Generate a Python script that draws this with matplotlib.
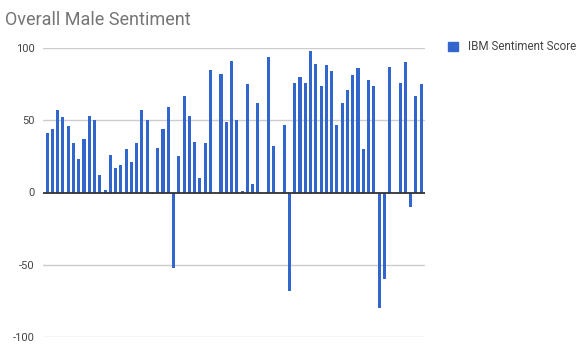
import numpy as np
import matplotlib.pyplot as plt
from matplotlib.patches import Patch

#============================================
# data
#============================================
scores = [41, 44, 57, 52, 46, 34, 23, 37, 53, 50,
          12, 1.4, 26, 17, 19, 30, 21, 34, 57, 50,
          -1, 31, 44, 59, -52, 25, 67, 53, 35, 10,
          34, 85, 0, 82, 49, 91, 50, 1, 75, 6,
          62, 0, 94, 32, 0, 47, -68, 76, 80, 76,
          98, 89, 74, 88, 84, 47, 62, 71, 81, 86,
          30, 78, 74, -80, -60, 87, 0, 76, 90, -10,
          67, 75]
series_name = 'IBM Sentiment Score'
title = 'Overall Male Sentiment'
yticks = [-100, -50, 0, 50, 100]

#============================================
# plot
#============================================
plt.rcParams['font.family'] = ['Roboto', 'DejaVu Sans']
bar_color = '#3366cc'

fig = plt.figure(figsize=(5.84, 3.57), dpi=100)
ax = fig.add_axes([43/584, 1-337/357, (425-43)/584, (337-48)/357])

x = np.arange(len(scores))
ax.bar(x, scores, width=0.58, color=bar_color, zorder=3)

ax.set_xlim(-0.78, len(scores) - 0.28)
ax.set_ylim(-100, 100)
ax.set_yticks(yticks)
ax.set_yticklabels([str(t) for t in yticks])
ax.set_xticks([])

for t in yticks:
    if t == 0:
        ax.axhline(t, color='#333333', lw=1.3, zorder=4)
    else:
        ax.axhline(t, color='#cccccc', lw=1, zorder=1)

for s in ax.spines.values():
    s.set_visible(False)
ax.tick_params(axis='y', length=0, pad=6, labelsize=8, labelcolor='#444444')

fig.text(5/584, 1-20/357, title, fontsize=13, color='#757575', va='center', ha='left')

fig.legend(handles=[Patch(color=bar_color, label=series_name)],
           loc='center left', bbox_to_anchor=(437/584, 1-47/357),
           frameon=False, fontsize=8.4, handlelength=0.9, handleheight=0.9,
           handletextpad=0.9, labelcolor='#444444')

fig.savefig('out.png', dpi=100)
